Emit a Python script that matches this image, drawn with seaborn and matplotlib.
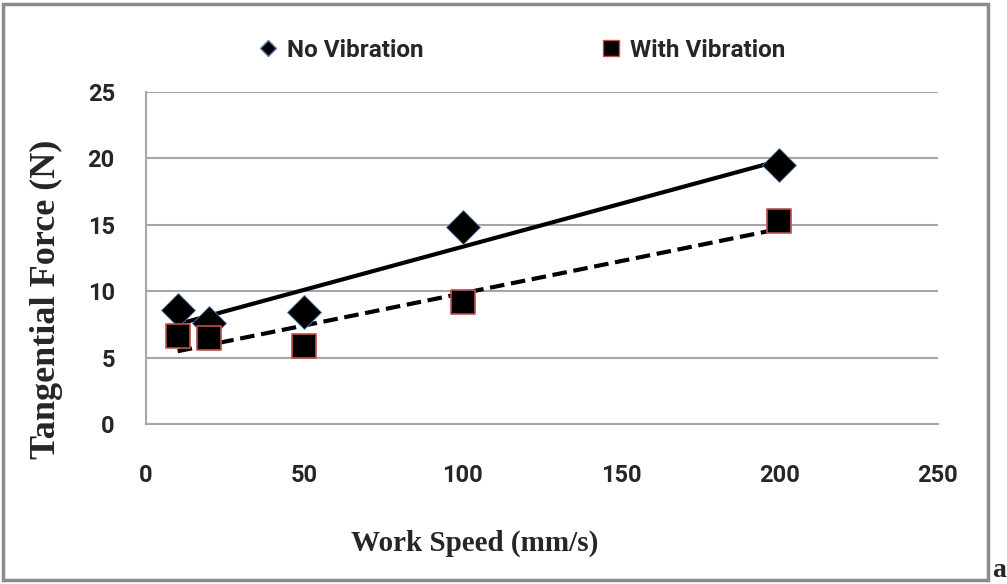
import numpy as np
import pandas as pd
import seaborn as sns
import matplotlib.pyplot as plt
from matplotlib.lines import Line2D
from matplotlib.patches import Rectangle

# values
work_speed = [10, 20, 50, 100, 200]
force_no_vib = [8.6, 7.6, 8.4, 14.8, 19.5]
force_with_vib = [6.6, 6.45, 5.85, 9.15, 15.3]
x_ticks = [0, 50, 100, 150, 200, 250]
y_ticks = [0, 5, 10, 15, 20, 25]

df = pd.DataFrame({'speed': work_speed, 'no_vib': force_no_vib, 'with_vib': force_with_vib})

sns.set_style('white')
tick_font = 'Roboto'
label_font = 'Liberation Serif'

fig = plt.figure(figsize=(10.07, 5.84), dpi=100)
ax = fig.add_axes([0.145, 0.274, 0.786, 0.569])

# linear trendlines
sns.regplot(x='speed', y='no_vib', data=df, ax=ax, ci=None, scatter=False,
            line_kws={'color': 'black', 'lw': 3, 'zorder': 3})
sns.regplot(x='speed', y='with_vib', data=df, ax=ax, ci=None, scatter=False,
            line_kws={'color': 'black', 'lw': 3, 'ls': (0, (3.5, 1.6)), 'zorder': 3})

# points
sns.scatterplot(x='speed', y='no_vib', data=df, ax=ax, marker='D', s=300,
                color='black', edgecolor='#5b7fb0', linewidth=0.6, zorder=4)
sns.scatterplot(x='speed', y='with_vib', data=df, ax=ax, marker='s', s=300,
                color='black', edgecolor='#c0504d', linewidth=1.2, zorder=4)

ax.set_xlim(0, 250)
ax.set_ylim(0, 25)
ax.set_xticks(x_ticks)
ax.set_yticks(y_ticks)
ax.grid(axis='y', color='#a6a6a6', lw=1.5)
ax.grid(axis='x', visible=False)
for side in ['top', 'right']:
    ax.spines[side].set_visible(False)
for side in ['left', 'bottom']:
    ax.spines[side].set_color('#a6a6a6')
    ax.spines[side].set_linewidth(1.5)
ax.tick_params(axis='x', length=7, width=1.5, color='#a6a6a6', direction='out', pad=22)
ax.tick_params(axis='y', length=8.5, width=1.5, color='#a6a6a6', direction='out', pad=14)
ax.set_xticklabels([str(t) for t in x_ticks], fontfamily=tick_font, fontweight='bold', fontsize=17)
ax.set_yticklabels([str(t) for t in y_ticks], fontfamily=tick_font, fontweight='bold', fontsize=17)

ax.set_xlabel('Work Speed (mm/s)', fontfamily=label_font, fontweight='bold', fontsize=21, va='center')
ax.xaxis.set_label_coords(0.415, -0.36)
ax.set_ylabel('Tangential Force (N)', fontfamily=label_font, fontweight='bold', fontsize=26, va='center')
ax.yaxis.set_label_coords(-0.126, 0.375)

handles = [Line2D([], [], marker='D', color='black', markeredgecolor='#5b7fb0', ls='none', ms=8),
           Line2D([], [], marker='s', color='black', markeredgecolor='#c0504d', ls='none', ms=11)]
fig.legend(handles, ['No Vibration', 'With Vibration'], loc='center', bbox_to_anchor=(0.517, 0.914),
           ncol=2, frameon=False, handlelength=1.0, handletextpad=0.3, columnspacing=7.2,
           prop={'family': tick_font, 'weight': 'bold', 'size': 17.5})

# chart frame and panel letter
fig.patches.append(Rectangle((3 / 1007, 4 / 584), 985 / 1007, 576 / 584, transform=fig.transFigure,
                             fill=False, edgecolor='#8c8c8c', lw=2.5))
fig.text(0.999, 0.002, 'a', fontfamily=label_font, fontweight='bold', fontsize=20, ha='right', va='bottom')

fig.savefig('out.png', dpi=100)
